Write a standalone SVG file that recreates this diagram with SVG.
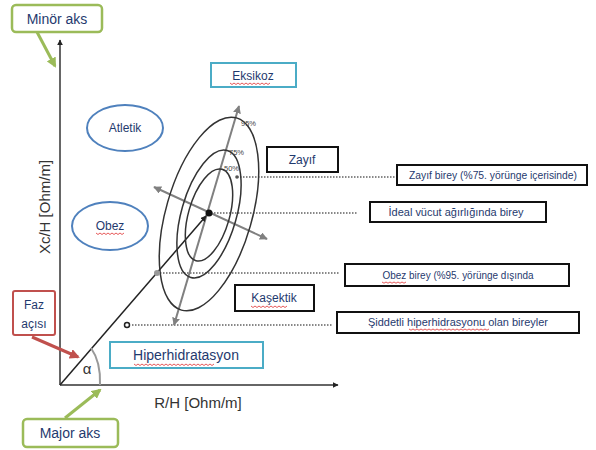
<svg xmlns="http://www.w3.org/2000/svg" width="596" height="450" viewBox="0 0 596 450">
<defs>
<style>
.t{font-family:"Liberation Sans",Arial,sans-serif;fill:#1F3A6E;text-anchor:middle}
.ax{font-family:"Liberation Sans",Arial,sans-serif;fill:#333;text-anchor:middle;font-size:15px}
.pct{font-family:"Liberation Sans",Arial,sans-serif;fill:#444;text-anchor:start;font-size:7.5px}
.bk{fill:#fff;stroke:#111;stroke-width:2}
.teal{fill:#fff;stroke:#4BACC6;stroke-width:2}
.blue{fill:#fff;stroke:#4F81BD;stroke-width:2}
.dot{stroke:#888;stroke-width:2;stroke-dasharray:1.5 1.5;fill:none}
.sq{stroke:#E03030;stroke-width:0.8;fill:none}
.ell{fill:none;stroke:#333;stroke-width:1.5}
</style>
<marker id="ab" viewBox="0 0 10 10" refX="9" refY="5" markerWidth="6" markerHeight="6" orient="auto-start-reverse" markerUnits="userSpaceOnUse"><path d="M0,0L10,5L0,10z" fill="#222"/></marker>
<marker id="ag" viewBox="0 0 10 10" refX="9" refY="5" markerWidth="8" markerHeight="8" orient="auto-start-reverse" markerUnits="userSpaceOnUse"><path d="M0,0L10,5L0,10z" fill="#808080"/></marker>
<marker id="agr" viewBox="0 0 10 10" refX="8" refY="5" markerWidth="10" markerHeight="10" orient="auto" markerUnits="userSpaceOnUse"><path d="M0,0L10,5L0,10z" fill="#9BBB59"/></marker>
<marker id="ard" viewBox="0 0 10 10" refX="8" refY="5" markerWidth="10" markerHeight="10" orient="auto" markerUnits="userSpaceOnUse"><path d="M0,0L10,5L0,10z" fill="#C0504D"/></marker>
</defs>
<rect width="596" height="450" fill="#fff"/>

<g id="connectors">
<line x1="60" y1="385" x2="60" y2="40" stroke="#333" stroke-width="1.5" marker-end="url(#ab)"/>
<line x1="60" y1="385" x2="338" y2="385" stroke="#333" stroke-width="1.5" marker-end="url(#ab)"/>
<line x1="237" y1="177" x2="395" y2="177" class="dot"/>
<line x1="211" y1="213" x2="358" y2="213" class="dot"/>
<line x1="157" y1="273" x2="340" y2="273" class="dot"/>
<line x1="132" y1="325" x2="332" y2="325" class="dot"/>
<line x1="174" y1="325" x2="239" y2="106" stroke="#808080" stroke-width="2" marker-start="url(#ag)" marker-end="url(#ag)"/>
<line x1="154" y1="187" x2="267" y2="239" stroke="#808080" stroke-width="2" marker-start="url(#ag)" marker-end="url(#ag)"/>
<line x1="60" y1="385" x2="206" y2="216" stroke="#222" stroke-width="1.5" marker-end="url(#ab)"/>
<line x1="37" y1="32" x2="55" y2="66" stroke="#9BBB59" stroke-width="3" marker-end="url(#agr)"/>
<line x1="65" y1="418" x2="100" y2="390" stroke="#9BBB59" stroke-width="3" marker-end="url(#agr)"/>
<line x1="32" y1="337" x2="78" y2="357" stroke="#C0504D" stroke-width="3" marker-end="url(#ard)"/>
<path d="M91,348 Q101,362 100,385" fill="none" stroke="#999" stroke-width="2"/>
</g>

<g id="ellipses">
<ellipse cx="209" cy="214" rx="43" ry="100" transform="rotate(16 209 214)" class="ell"/>
<ellipse cx="209" cy="214" rx="27.5" ry="66" transform="rotate(16 209 214)" class="ell"/>
<ellipse cx="209" cy="215" rx="20.5" ry="47.5" transform="rotate(16 209 215)" class="ell"/>
<circle cx="209" cy="213" r="3.5" fill="#111"/>
<circle cx="157" cy="273" r="3" fill="#999"/>
<circle cx="237" cy="177" r="1.8" fill="#555"/>
<circle cx="127" cy="325" r="2.5" fill="#fff" stroke="#222" stroke-width="1.5"/>
<text x="241" y="126" class="pct">95%</text>
<text x="229" y="155" class="pct">75%</text>
<text x="224" y="171" class="pct">50%</text>
</g>

<g id="minor-aks">
<rect x="12" y="5" width="90" height="27" rx="4" fill="#fff" stroke="#9BBB59" stroke-width="2.5"/>
<text x="57" y="24" class="t" font-size="14">Minör aks</text>
</g>
<g id="major-aks">
<rect x="23" y="419" width="95" height="28" rx="4" fill="#fff" stroke="#9BBB59" stroke-width="2.5"/>
<text x="70" y="438" class="t" font-size="14">Major aks</text>
</g>
<g id="faz-acisi">
<rect x="13" y="291" width="42" height="44" rx="2" fill="#fff" stroke="#C0504D" stroke-width="2"/>
<text x="34" y="309" class="t" font-size="12">Faz</text>
<text x="34" y="328" class="t" font-size="12">açısı</text>
</g>
<g id="alpha">
<text x="87" y="374" class="ax" font-size="15">α</text>
</g>
<g id="eksikoz">
<rect x="211" y="63" width="85" height="24" class="teal"/>
<text x="253" y="80" class="t" font-size="12">Eksikoz</text>
<path d="M230,83 l2,1.5 2,-1.5 2,1.5 2,-1.5 2,1.5 2,-1.5 2,1.5 2,-1.5 2,1.5 2,-1.5 2,1.5 2,-1.5 2,1.5 2,-1.5 2,1.5 2,-1.5 2,1.5 2,-1.5 2,1.5 2,-1.5" class="sq"/>
</g>
<g id="atletik">
<ellipse cx="125" cy="128" rx="38" ry="23" class="blue"/>
<text x="125" y="132" class="t" font-size="12">Atletik</text>
</g>
<g id="obez">
<ellipse cx="110" cy="226" rx="38" ry="24" class="blue"/>
<text x="110" y="230" class="t" font-size="12">Obez</text>
<path d="M96,233 l2,1.5 2,-1.5 2,1.5 2,-1.5 2,1.5 2,-1.5 2,1.5 2,-1.5 2,1.5 2,-1.5 2,1.5 2,-1.5 2,1.5 2,-1.5" class="sq"/>
</g>
<g id="zayif">
<rect x="267" y="147" width="71" height="25" class="bk"/>
<text x="302" y="164" class="t" font-size="12">Zayıf</text>
</g>
<g id="kasektik">
<rect x="235" y="285" width="79" height="26" class="bk"/>
<text x="274" y="302" class="t" font-size="12">Kaşektik</text>
<path d="M251,306 l2,1.5 2,-1.5 2,1.5 2,-1.5 2,1.5 2,-1.5 2,1.5 2,-1.5 2,1.5 2,-1.5 2,1.5 2,-1.5 2,1.5 2,-1.5 2,1.5 2,-1.5 2,1.5 2,-1.5" class="sq"/>
</g>
<g id="hiperhidratasyon">
<rect x="110" y="342" width="153" height="26" class="teal"/>
<text x="186" y="360" class="t" font-size="14">Hiperhidratasyon</text>
<path d="M134,364 l2,1.5 2,-1.5 2,1.5 2,-1.5 2,1.5 2,-1.5 2,1.5 2,-1.5 2,1.5 2,-1.5 2,1.5 2,-1.5 2,1.5 2,-1.5 2,1.5 2,-1.5 2,1.5 2,-1.5 2,1.5 2,-1.5 2,1.5 2,-1.5 2,1.5 2,-1.5 2,1.5 2,-1.5 2,1.5 2,-1.5 2,1.5 2,-1.5 2,1.5 2,-1.5 2,1.5 2,-1.5 2,1.5 2,-1.5 2,1.5 2,-1.5 2,1.5 2,-1.5" class="sq"/>
</g>
<g id="zayif-birey">
<rect x="397" y="165" width="190" height="20" class="bk"/>
<text x="493" y="179" class="t" font-size="10.5" textLength="168" lengthAdjust="spacingAndGlyphs">Zayıf birey (%75. yörünge içerisinde)</text>
</g>
<g id="ideal-birey">
<rect x="370" y="202" width="176" height="20" class="bk"/>
<text x="456" y="216" class="t" font-size="10.5" textLength="135" lengthAdjust="spacingAndGlyphs">İdeal vücut ağırlığında birey</text>
</g>
<g id="obez-birey">
<rect x="345" y="264" width="224" height="22" class="bk"/>
<text x="458" y="279" class="t" font-size="10.5" textLength="151" lengthAdjust="spacingAndGlyphs">Obez birey (%95. yörünge dışında</text>
<path d="M382,282 l2,1.2 2,-1.2 2,1.2 2,-1.2 2,1.2 2,-1.2 2,1.2 2,-1.2 2,1.2 2,-1.2 2,1.2 2,-1.2" class="sq"/>
</g>
<g id="siddetli">
<rect x="337" y="312" width="242" height="21" class="bk"/>
<text x="458" y="326" class="t" font-size="10.5" textLength="180" lengthAdjust="spacingAndGlyphs">Şiddetli hiperhidrasyonu  olan bireyler</text>
<path d="M409,329 l2,1.2 2,-1.2 2,1.2 2,-1.2 2,1.2 2,-1.2 2,1.2 2,-1.2 2,1.2 2,-1.2 2,1.2 2,-1.2 2,1.2 2,-1.2 2,1.2 2,-1.2 2,1.2 2,-1.2 2,1.2 2,-1.2 2,1.2 2,-1.2 2,1.2 2,-1.2 2,1.2 2,-1.2 2,1.2 2,-1.2 2,1.2 2,-1.2 2,1.2 2,-1.2 2,1.2 2,-1.2 2,1.2 2,-1.2 2,1.2 2,-1.2 2,1.2 2,-1.2" class="sq"/>
</g>
<g id="axis-labels">
<text x="198" y="408" class="ax">R/H [Ohm/m]</text>
<text x="0" y="0" class="ax" transform="translate(50 207) rotate(-90)">Xc/H [Ohm/m]</text>
</g>
</svg>
